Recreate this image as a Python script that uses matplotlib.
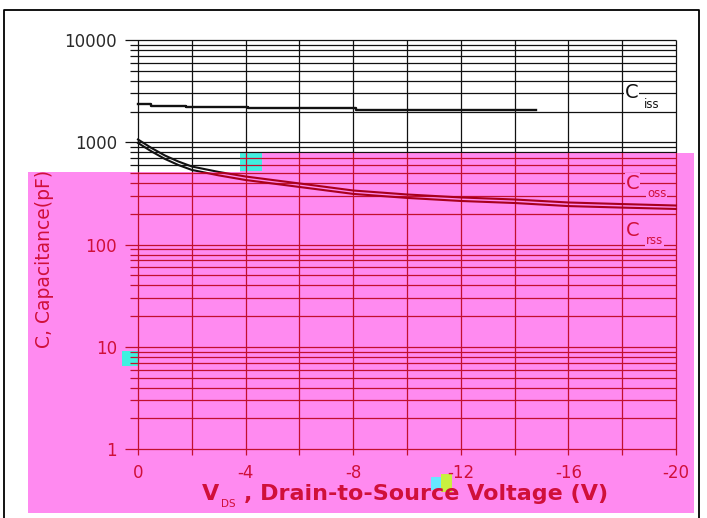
import matplotlib
matplotlib.use("Agg")
import matplotlib.pyplot as plt
from matplotlib.patches import Polygon, PathPatch, Rectangle
from matplotlib.path import Path
from matplotlib.lines import Line2D
from matplotlib.ticker import NullLocator

# ---------------- data ----------------
vds_ciss = [0, -0.5, -1.8, -4.1, -8.1, -14.8]
c_iss = [2350, 2265, 2230, 2170, 2070, 2070]

vds_curve = [0, -0.5, -1, -1.5, -2, -3, -4, -6, -8, -10, -12, -14, -16, -18, -20]
c_oss = [1065, 880, 743, 649, 580, 513, 463, 396, 338, 309, 289, 276, 258, 249, 241]
c_rss = [985, 815, 688, 600, 537, 475, 428, 366, 313, 286, 267, 255, 238, 230, 223]

x_ticks = [0, -4, -8, -12, -16, -20]
x_tick_labels = ["0", "-4", "-8", "-12", "-16", "-20"]
x_grid = [0, -2, -4, -6, -8, -10, -12, -14, -16, -18, -20]
y_ticks = [1, 10, 100, 1000, 10000]
y_tick_labels = ["1", "10", "100", "1000", "10000"]
y_minor = [m * d for d in (1, 10, 100, 1000) for m in range(2, 10)]

# ---------------- style ----------------
W, H = 707, 518
PINK = "#ff8af0"
BLACK = "#111111"
RED_GRID = "#c2102e"
RED_CURVE = "#a8001c"
RED_TEXT = "#d0103a"
GRAY_TEXT = "#2a2a2a"


def fx(x):
    return x / W


def fy(y):
    return 1 - y / H


fig = plt.figure(figsize=(W / 100, H / 100), dpi=100)
fig.patch.set_facecolor("white")

# pink overlay region (pixel coords, y down)
pink_px = [(28, 171.5), (240, 171.5), (240, 153), (694, 153), (694, 513), (28, 513)]
pink_fig = [(fx(x), fy(y)) for x, y in pink_px]
pink_bg = Polygon(pink_fig, closed=True, transform=fig.transFigure,
                  facecolor=PINK, edgecolor="none", zorder=-2)
fig.add_artist(pink_bg)
pink_clip = Polygon(pink_fig, closed=True, transform=fig.transFigure)

outer = [(-0.1, -0.1), (1.1, -0.1), (1.1, 1.1), (-0.1, 1.1)]
verts = outer + [outer[0]] + pink_fig + [pink_fig[0]]
codes = ([Path.MOVETO] + [Path.LINETO] * 3 + [Path.CLOSEPOLY]
         + [Path.MOVETO] + [Path.LINETO] * 5 + [Path.CLOSEPOLY])
white_clip = PathPatch(Path(verts, codes), transform=fig.transFigure)

# scan artifacts
for (x0, y0, x1, y1, c) in [(240, 153, 262, 171, "#40f0e0"),
                            (122, 351, 138, 366, "#40f0e0"),
                            (431, 477, 441, 490, "#66e8ff"),
                            (441, 474, 452, 492, "#c8f040")]:
    fig.add_artist(Rectangle((fx(x0), fy(y1)), fx(x1) - fx(x0), fy(y0) - fy(y1),
                             transform=fig.transFigure, facecolor=c,
                             edgecolor="none", zorder=-1))

ax = fig.add_axes([fx(138), fy(449.2), fx(676) - fx(138), fy(40) - fy(449.2)])
ax.set_facecolor("none")
ax.set_yscale("log")
ax.set_xlim(0, -20)
ax.set_ylim(1, 10000)
for s in ax.spines.values():
    s.set_visible(False)
ax.yaxis.set_minor_locator(NullLocator())
ax.xaxis.set_minor_locator(NullLocator())
ax.set_xticks(x_ticks, x_tick_labels)
ax.set_yticks(y_ticks, y_tick_labels)
ax.tick_params(axis="x", length=0, pad=11.0, labelsize=12)
ax.tick_params(axis="y", length=0, pad=15, labelsize=12)
for lab in ax.get_xticklabels():
    lab.set_color(RED_TEXT)
for lab, v in zip(ax.get_yticklabels(), y_ticks):
    lab.set_color(GRAY_TEXT if v >= 1000 else RED_TEXT)


def clip(artists, patch):
    for a in artists:
        a.set_clip_path(patch)
        a.set_clip_box(None)


for gcol, ccol, patch in [(BLACK, BLACK, white_clip), (RED_GRID, RED_CURVE, pink_clip)]:
    a1 = ax.hlines(y_minor, 0.3, -20, colors=gcol, lw=0.9, zorder=1)
    a2 = ax.hlines(y_ticks, 0.48, -20, colors=gcol, lw=0.9, zorder=1)
    a3 = ax.vlines(x_grid, 0.873, 10000, colors=gcol, lw=0.9, zorder=1)
    l1, = ax.plot(vds_ciss, c_iss, drawstyle="steps-post", color=ccol, lw=1.7, zorder=3)
    l2, = ax.plot(vds_curve, c_oss, color=ccol, lw=1.5, zorder=3)
    l3, = ax.plot(vds_curve, c_rss, color=ccol, lw=1.5, zorder=3)
    clip([a1, a2, a3, l1, l2, l3], patch)

# curve labels
box_w = dict(facecolor="white", edgecolor="none", pad=0.6)
box_p = dict(facecolor=PINK, edgecolor="none", pad=0.6)
fig.text(fx(625), fy(92), "C", fontsize=14, color=BLACK, va="center", ha="left", bbox=box_w, zorder=5)
fig.text(fx(644), fy(104), "iss", fontsize=8.5, color=BLACK, va="center", ha="left", bbox=box_w, zorder=5)
fig.text(fx(626), fy(183.5), "C", fontsize=14, color=RED_TEXT, va="center", ha="left", bbox=box_p, zorder=5)
fig.text(fx(647), fy(194), "oss", fontsize=8.5, color=RED_TEXT, va="center", ha="left", bbox=box_p, zorder=5)
fig.text(fx(626), fy(230), "C", fontsize=14, color=RED_TEXT, va="center", ha="left", bbox=box_p, zorder=5)
fig.text(fx(646), fy(240), "rss", fontsize=8.5, color=RED_TEXT, va="center", ha="left", bbox=box_p, zorder=5)

# axis titles
fig.text(fx(45), fy(259), "C, Capacitance(pF)", rotation=90, fontsize=13.5,
         color=RED_TEXT, ha="center", va="center")
fig.text(fx(202), fy(500.5), "V", fontsize=16, fontweight="bold",
         color=RED_TEXT, ha="left", va="baseline")
fig.text(fx(221), fy(507), "DS", fontsize=7.5, color=RED_TEXT, ha="left", va="baseline")
fig.text(fx(244), fy(500.5), ", Drain-to-Source Voltage (V)", fontsize=16,
         fontweight="bold", color=RED_TEXT, ha="left", va="baseline")

# outer frame
fig.add_artist(Line2D([fx(4), fx(4), fx(699), fx(699)], [fy(600), fy(10), fy(10), fy(600)],
                      transform=fig.transFigure, color="black", lw=1.3))

fig.savefig("out.png", dpi=100)
